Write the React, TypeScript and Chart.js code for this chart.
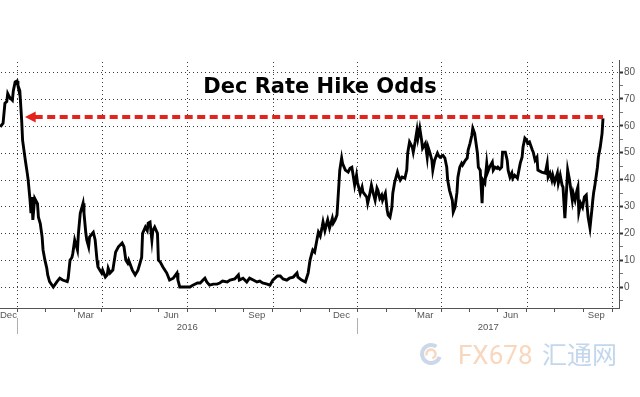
import React, { useEffect, useRef } from 'react';
import { Chart, registerables } from 'chart.js';

Chart.register(...registerables);

const chartTitle = 'Dec Rate Hike Odds';

// [days since 1 Dec 2015, implied odds %]
const oddsSeries: [number, number][] = [
  [-18, 59.6], [-15, 61], [-13, 68.4], [-11, 69], [-10, 72], [-8, 70.6], [-5, 69.5], [-4, 73], [-2, 76.3], [0, 76.7],
  [1, 75], [3, 73], [5, 62], [6, 54.6], [9, 47], [11, 42.4], [12, 39.8], [14, 32.3], [15, 27.5], [16, 33.5],
  [17, 25], [19, 33], [22, 31], [23, 26], [25, 23.6], [27, 18.6], [28, 13.8], [30, 10], [32, 7], [33, 4.5],
  [35, 2], [39, 0], [43, 2], [46, 3.3], [49, 2.6], [54, 2], [55, 3.3], [57, 10], [59, 11], [60, 12.6],
  [62, 17.5], [65, 13.8], [66, 20], [68, 27.5], [71, 31.2], [72, 27.5], [74, 20], [75, 17.5], [77, 15], [78, 18.6],
  [81, 20], [82, 20.4], [84, 17.5], [86, 10], [87, 7.5], [89, 6.3], [91, 5.2], [92, 6.3], [95, 3.7], [97, 4.5],
  [98, 7], [100, 5.2], [103, 6.3], [106, 13], [109, 15], [113, 16.4], [115, 15], [117, 10], [119, 8.9], [120, 10],
  [124, 6.3], [127, 4.5], [130, 6.3], [134, 11], [135, 20], [138, 22.3], [140, 21], [141, 23.8], [143, 24.2], [145, 17.5],
  [146, 21], [148, 22.3], [151, 20], [152, 10], [154, 9.3], [157, 7.4], [161, 5.2], [164, 2.6], [168, 3.3], [172, 5.2],
  [173, 2.6], [175, 0], [183, 0], [186, 0], [189, 0.7], [194, 1.5], [197, 1.5], [200, 2.6], [202, 3.3], [204, 1.9],
  [207, 0.7], [211, 1.1], [215, 1.1], [218, 1.5], [221, 2.2], [226, 1.9], [229, 2.6], [234, 3], [238, 4.5], [239, 2.6],
  [243, 3.3], [247, 1.9], [250, 3.3], [254, 2.6], [258, 1.9], [261, 2.2], [264, 1.5], [269, 1.1], [272, 0.7], [275, 2.6],
  [280, 4.1], [283, 4.1], [286, 3], [290, 2.6], [293, 3.3], [297, 3.7], [301, 5.2], [302, 3.7], [306, 2.6], [310, 1.9],
  [313, 5.2], [315, 10], [317, 12.6], [318, 13.8], [320, 13], [323, 18.6], [324, 20.4], [326, 19], [328, 22.3], [329, 24.2],
  [331, 21], [333, 23.8], [334, 25], [336, 22], [339, 25.6], [340, 23.8], [342, 25], [344, 26.8], [345, 32.3], [347, 43.5],
  [349, 48], [350, 46], [353, 43.5], [356, 42.8], [358, 44.2], [360, 44.6], [361, 42.4], [363, 37.9], [365, 41.6], [366, 39],
  [369, 34.9], [371, 37.2], [372, 35.3], [376, 33.5], [377, 31.2], [379, 34.2], [381, 37.9], [383, 34.9], [385, 32.3], [387, 36.8],
  [388, 36], [390, 33], [392, 34.2], [393, 32.3], [396, 34.9], [398, 28.6], [399, 26.8], [401, 26], [403, 29.7], [404, 34.9],
  [406, 39], [409, 42.8], [410, 41.6], [412, 39.8], [414, 40.9], [417, 40.5], [419, 43.5], [420, 49.8], [422, 54], [425, 52],
  [426, 50.2], [428, 54], [430, 58.4], [431, 55.4], [433, 59.1], [435, 54.6], [436, 51.7], [439, 53.5], [441, 48.3], [442, 52],
  [444, 49.8], [446, 47.2], [447, 43.5], [449, 47.2], [452, 49.8], [453, 49], [455, 48.3], [458, 49], [460, 48], [462, 44.6],
  [463, 39.8], [465, 36], [468, 32.3], [469, 27.9], [471, 29.7], [473, 35.3], [474, 40.9], [476, 44.6], [478, 46], [479, 45.4],
  [482, 47.2], [484, 48], [485, 51], [487, 53.5], [489, 56.5], [490, 59.1], [492, 57.2], [495, 49.8], [496, 44.6], [498, 43.5],
  [500, 31.2], [501, 39.8], [503, 38.7], [505, 46], [506, 42.8], [508, 44.6], [511, 46.5], [512, 43.5], [514, 44.6], [516, 44.2],
  [517, 44.6], [519, 43.9], [521, 44.6], [522, 50.2], [525, 50.2], [527, 47.2], [528, 43.5], [530, 40.9], [532, 42.4], [533, 40.5],
  [535, 41.6], [538, 40.5], [539, 42.4], [541, 46], [543, 48.3], [544, 52], [546, 55.4], [548, 54.6], [549, 53.5], [551, 54],
  [554, 51], [555, 50.2], [557, 47.2], [559, 48.3], [560, 43.5], [564, 42.8], [568, 42.4], [570, 46], [571, 40.9], [573, 42.4],
  [575, 39.8], [576, 41.6], [578, 39], [581, 42.4], [582, 38.7], [584, 41.6], [586, 37.9], [587, 37.2], [589, 25.6], [591, 37.2],
  [592, 43.5], [594, 39.8], [597, 32.3], [598, 34.9], [600, 32.3], [602, 36], [603, 37.2], [604, 27.9], [606, 31.2], [608, 29.7],
  [610, 33.5], [612, 34.2], [613, 29.7], [614, 26], [616, 22], [618, 28.6], [619, 32.3], [620, 35.3], [621, 37.2], [624, 44.6],
  [625, 48.3], [627, 52], [629, 57.2], [630, 62.8],
];

// x axis (days since 1 Dec 2015)
const monthStartDays = [0, 31, 62, 91, 122, 152, 183, 213, 244, 275, 305, 336, 366, 397, 428, 456, 487, 517, 548, 578, 609, 640];
const quarterDays = [0, 91, 183, 275, 366, 456, 548, 640];
const quarterLabels = ['Dec', 'Mar', 'Jun', 'Sep', 'Dec', 'Mar', 'Jun', 'Sep'];
const yearLabels = ['2016', '2017'];
const yearStartDays = [0, 366];
const xMin = -18.3;
const xMax = 647.2;

// y axis
const yTickValues = [-5, 0, 5, 10, 15, 20, 25, 30, 35, 40, 45, 50, 55, 60, 65, 70, 75, 80];
const yGridValues = [0, 10, 20, 30, 40, 50, 60, 70, 80];
const yMin = -7.8;
const yMax = 84.5;

// red arrow annotation
const arrowLevel = 63.3;
const arrowTipDay = 8.6;
const arrowStartDay = 19;
const arrowEndDay = 630;

const LABEL_FONT = '"Liberation Sans", Arial, sans-serif';
const GRID_COLOR = '#3c3c3c';

const isMajorY = (c: any) => !!c.tick && Math.abs(c.tick.value % 10) < 1e-6;

const overlayPlugin = {
  id: 'overlay',
  beforeDatasetsDraw(chart: any) {
    const { ctx, scales, chartArea } = chart;
    const xs = scales.x;
    const ys = scales.y;
    ctx.save();
    ctx.fillStyle = GRID_COLOR;
    // horizontal dotted grid
    yGridValues.forEach((v) => {
      const py = Math.round(ys.getPixelForValue(v));
      for (let px = Math.round(chartArea.left) + 1; px < chartArea.right - 1; px += 4) {
        ctx.fillRect(px, py, 1, 1);
      }
    });
    // vertical dotted grid
    quarterDays.forEach((d) => {
      const px = Math.round(xs.getPixelForValue(d));
      for (let py = Math.round(chartArea.top) + 2; py < chartArea.bottom; py += 4) {
        ctx.fillRect(px, py, 1, 1);
      }
    });
    ctx.restore();
  },
  afterDatasetsDraw(chart: any) {
    const { ctx, scales } = chart;
    const xs = scales.x;
    const ys = scales.y;
    const tipX = xs.getPixelForValue(arrowTipDay);
    const baseX = xs.getPixelForValue(arrowStartDay);
    const yy = ys.getPixelForValue(arrowLevel);
    ctx.save();
    ctx.fillStyle = '#e3231c';
    ctx.beginPath();
    ctx.moveTo(tipX, yy);
    ctx.lineTo(baseX + 1, yy - 5.5);
    ctx.lineTo(baseX + 1, yy + 5.5);
    ctx.closePath();
    ctx.fill();
    ctx.restore();
  },
  afterDraw(chart: any) {
    const { ctx, scales, chartArea } = chart;
    const xs = scales.x;
    ctx.save();
    // title
    ctx.fillStyle = '#000';
    ctx.font = 'bold 21px "DejaVu Sans", sans-serif';
    ctx.textAlign = 'center';
    ctx.textBaseline = 'alphabetic';
    ctx.fillText(chartTitle, 320, 93);

    // month labels
    ctx.font = `9.5px ${LABEL_FONT}`;
    ctx.fillStyle = '#555';
    ctx.textBaseline = 'middle';
    quarterDays.forEach((d, i) => {
      const w = ctx.measureText(quarterLabels[i]).width;
      let cx = xs.getPixelForValue(d) - 16;
      if (cx < w / 2) cx = w / 2;
      ctx.fillText(quarterLabels[i], cx, 315);
    });

    // year separators and labels
    ctx.strokeStyle = '#b0b0b0';
    ctx.lineWidth = 1;
    yearStartDays.forEach((d) => {
      const px = Math.round(xs.getPixelForValue(d)) + 0.5;
      ctx.beginPath();
      ctx.moveTo(px, 318);
      ctx.lineTo(px, 334);
      ctx.stroke();
    });
    yearLabels.forEach((lab, i) => {
      const a = xs.getPixelForValue(yearStartDays[i]);
      const b = i + 1 < yearStartDays.length ? xs.getPixelForValue(yearStartDays[i + 1]) : chartArea.right;
      ctx.fillText(lab, (a + b) / 2, 327);
    });

    // watermark
    ctx.globalAlpha = 0.55;
    ctx.strokeStyle = '#9fb8d8';
    ctx.lineWidth = 4;
    ctx.beginPath();
    ctx.arc(431, 354, 9, Math.PI * 0.1, Math.PI * 1.7);
    ctx.stroke();
    ctx.strokeStyle = '#f2b48a';
    ctx.lineWidth = 2.5;
    ctx.beginPath();
    ctx.arc(431, 354, 4.5, Math.PI * 0.9, Math.PI * 2.4);
    ctx.stroke();
    ctx.textAlign = 'left';
    ctx.textBaseline = 'alphabetic';
    ctx.fillStyle = '#f3b687';
    ctx.font = '26px Roboto, sans-serif';
    ctx.fillText('FX678', 458, 364);
    ctx.fillStyle = '#8fb4dc';
    ctx.font = '25px "Noto Sans CJK SC", sans-serif';
    ctx.fillText('汇通网', 542, 364);
    ctx.restore();
  },
};

export default function App() {
  const canvasRef = useRef<HTMLCanvasElement | null>(null);

  useEffect(() => {
    const canvas = canvasRef.current;
    if (!canvas) return;
    const lineData = oddsSeries.map(([d, v]) => ({ x: d, y: v }));
    const arrowData = [
      { x: arrowStartDay, y: arrowLevel },
      { x: arrowEndDay, y: arrowLevel },
    ];
    const chart = new Chart(canvas, {
      type: 'line',
      data: {
        datasets: [
          {
            label: 'arrow',
            data: arrowData,
            borderColor: '#e3231c',
            borderWidth: 4,
            borderDash: [8, 4.5],
            pointRadius: 0,
            fill: false,
          },
          {
            label: 'Dec Rate Hike Odds',
            data: lineData,
            borderColor: '#000',
            borderWidth: 2.9,
            pointRadius: 0,
            tension: 0,
            fill: false,
          },
        ],
      },
      options: {
        responsive: false,
        animation: false,
        parsing: false,
        layout: { padding: { top: 60, left: 0, right: 0, bottom: 0 } },
        plugins: {
          legend: { display: false },
          tooltip: { enabled: false },
          title: { display: false },
        },
        scales: {
          x: {
            type: 'linear',
            min: xMin,
            max: xMax,
            afterBuildTicks: (s: any) => {
              s.ticks = monthStartDays.map((v) => ({ value: v }));
            },
            afterFit: (s: any) => {
              s.height = 89;
            },
            ticks: { display: false, autoSkip: false },
            grid: {
              drawOnChartArea: false,
              tickColor: '#555',
              tickLength: 4,
              tickWidth: 1,
            },
            border: { display: true, color: '#555', width: 1 },
          },
          y: {
            type: 'linear',
            position: 'right',
            min: yMin,
            max: yMax,
            afterBuildTicks: (s: any) => {
              s.ticks = yTickValues.map((v) => ({ value: v }));
            },
            afterFit: (s: any) => {
              s.width = 21;
            },
            ticks: {
              autoSkip: false,
              callback: (v: any) => (Math.abs(Number(v) % 10) < 1e-6 ? String(v) : ''),
              color: '#555',
              font: { family: LABEL_FONT, size: 10 },
              padding: 1,
            },
            grid: {
              drawOnChartArea: false,
              tickColor: (c: any) => (isMajorY(c) ? '#333' : '#777'),
              tickLength: 4,
              tickWidth: (c: any) => (isMajorY(c) ? 2 : 1),
            },
            border: { display: true, color: '#555', width: 1 },
          },
        },
      },
      plugins: [overlayPlugin],
    });
    return () => chart.destroy();
  }, []);

  return (
    <div style={{ position: 'absolute', left: 0, top: 0, width: 640, height: 397, background: '#fff' }}>
      <canvas ref={canvasRef} width={640} height={397} style={{ display: 'block' }} />
    </div>
  );
}
